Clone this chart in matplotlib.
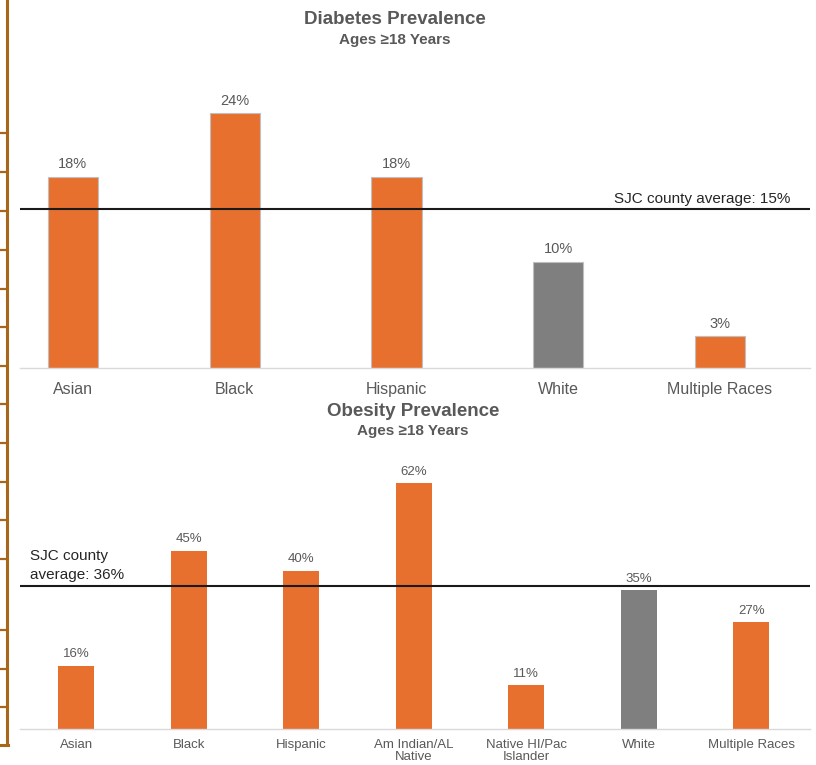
import matplotlib.pyplot as plt
from matplotlib.lines import Line2D

plt.rcParams['font.family'] = ['Liberation Sans', 'DejaVu Sans']

# diabetes, adults 18+
DIAB_GROUPS = ["Asian", "Black", "Hispanic", "White", "Multiple Races"]
DIAB_VALUES = [18, 24, 18, 10, 3]
DIAB_AVG = 15

# obesity, adults 18+
OBES_GROUPS = ["Asian", "Black", "Hispanic", "Am Indian/AL\nNative",
               "Native HI/Pac\nIslander", "White", "Multiple Races"]
OBES_VALUES = [16, 45, 40, 62, 11, 35, 27]
OBES_AVG = 36

ORANGE = '#E8702F'
GREY_BAR = '#7F7F7F'
TEXT_GREY = '#595959'
BROWN = '#A8661A'

W, H = 816, 765


def px_axes(fig, left, top, right, bottom):
    """add axes using pixel box measured from the top-left corner"""
    return fig.add_axes([left / W, 1 - bottom / H, (right - left) / W, (bottom - top) / H])


def bar_panel(ax, groups, values, white_idx, width, edge, label_size, tick_size, pad, spacing):
    colors = [GREY_BAR if i == white_idx else ORANGE for i in range(len(groups))]
    bars = ax.bar(range(len(groups)), values, width=width, color=colors,
                  edgecolor=edge, linewidth=0.8 if edge != 'none' else 0, zorder=2)
    for b, v in zip(bars, values):
        ax.annotate(f"{v}%", (b.get_x() + b.get_width() / 2, v), xytext=(0, 4),
                    textcoords='offset points', ha='center', va='bottom',
                    fontsize=label_size, color=TEXT_GREY)
    ax.set_xticks(range(len(groups)))
    ax.set_xticklabels(groups, fontsize=tick_size, color=TEXT_GREY, linespacing=spacing)
    ax.tick_params(axis='x', length=0, pad=pad)
    ax.set_yticks([])
    for side in ['top', 'right', 'left']:
        ax.spines[side].set_visible(False)
    ax.spines['bottom'].set_color('#D9D9D9')
    ax.spines['bottom'].set_linewidth(1.0)
    ax.set_ylim(bottom=0)


fig = plt.figure(figsize=(W / 100, H / 100), dpi=100)

# --- diabetes panel ---
ax1 = px_axes(fig, 20, 60, 810, 368)
bar_panel(ax1, DIAB_GROUPS, DIAB_VALUES, 3, 0.31, '#BFBFBF', 10.5, 11.5, 10, 1.15)
ax1.set_xlim(-0.327, 4.556)
ax1.set_ylim(0, 29)
ax1.axhline(DIAB_AVG, color='#1a1a1a', linewidth=1.5, zorder=3)
ax1.annotate(f"SJC county average: {DIAB_AVG}%", (0.975, DIAB_AVG), xycoords=('axes fraction', 'data'),
             xytext=(0, 2), textcoords='offset points', ha='right', va='bottom',
             fontsize=11, color='#262626')
fig.text(395 / W, 1 - 19 / H, "Diabetes Prevalence", ha='center', va='center',
         fontsize=13.5, fontweight='bold', color=TEXT_GREY)
fig.text(395 / W, 1 - 40 / H, "Ages \u226518 Years", ha='center', va='center',
         fontsize=11, fontweight='bold', color=TEXT_GREY)

# --- obesity panel ---
ax2 = px_axes(fig, 20, 460, 810, 729)
bar_panel(ax2, OBES_GROUPS, OBES_VALUES, 5, 0.32, 'none', 9.5, 9.5, 7, 1.0)
ax2.set_xlim(-0.498, 6.52)
ax2.set_ylim(0, 269 / 3.96)
ax2.axhline(OBES_AVG, color='#1a1a1a', linewidth=1.5, zorder=3)
ax2.annotate(f"SJC county\naverage: {OBES_AVG}%", (0.013, OBES_AVG), xycoords=('axes fraction', 'data'),
             xytext=(0, 3), textcoords='offset points', ha='left', va='bottom',
             fontsize=11, color='#262626', linespacing=1.45)
fig.text(413 / W, 1 - 411 / H, "Obesity Prevalence", ha='center', va='center',
         fontsize=13.5, fontweight='bold', color=TEXT_GREY)
fig.text(413 / W, 1 - 431 / H, "Ages \u226518 Years", ha='center', va='center',
         fontsize=11, fontweight='bold', color=TEXT_GREY)

# brown bracket rule down the left edge
fig.add_artist(Line2D([7 / W, 7 / W], [1, 1 - 745 / H], color=BROWN, linewidth=2.2))
fig.add_artist(Line2D([0, 8 / W], [1 - 745 / H, 1 - 745 / H], color=BROWN, linewidth=2.2))
for ty in [133, 172, 211, 250, 289, 327, 366, 404, 443, 482, 520, 559, 630, 669, 707]:
    fig.add_artist(Line2D([0, 7 / W], [1 - ty / H, 1 - ty / H], color=BROWN, linewidth=1.6))

fig.savefig('out.png', dpi=100)
